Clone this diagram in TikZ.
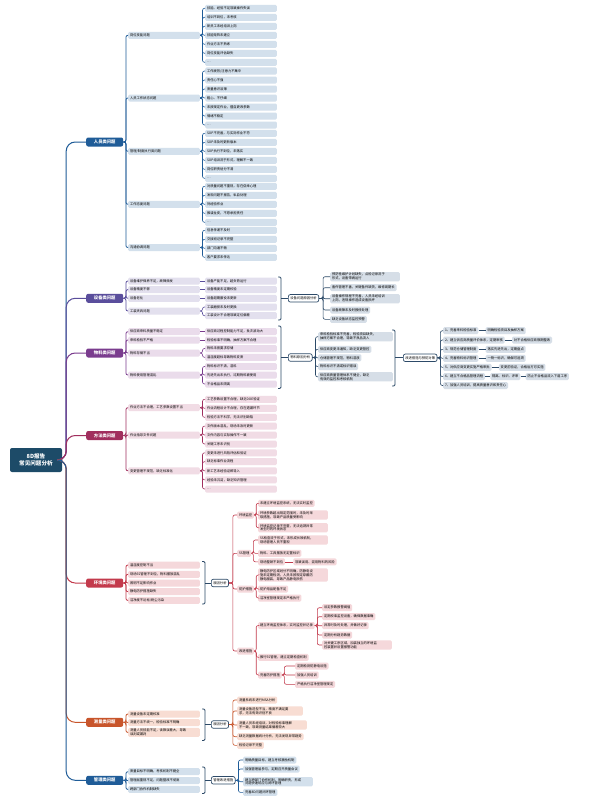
\documentclass[tikz,border=0pt]{standalone}
\usepackage{fontspec}
\newfontfamily\cjk{Noto Sans CJK SC}
\XeTeXlinebreaklocale "zh"
\XeTeXlinebreakskip = 0pt plus 1pt
\usetikzlibrary{positioning}
\definecolor{rootc}{HTML}{1D4B68}
\definecolor{c1}{HTML}{1F5C98}\definecolor{l1}{HTML}{D3E0EC}
\definecolor{c2}{HTML}{5A4E9C}\definecolor{l2}{HTML}{E3E0EE}
\definecolor{c3}{HTML}{7A3C8E}\definecolor{l3}{HTML}{EADCEB}
\definecolor{c4}{HTML}{A12F5E}\definecolor{l4}{HTML}{F1DCE5}
\definecolor{c5}{HTML}{C33A4C}\definecolor{l5}{HTML}{F5D8DB}
\definecolor{c6}{HTML}{C8552B}\definecolor{l6}{HTML}{F8DDD3}
\definecolor{c7}{HTML}{1F5C98}\definecolor{l7}{HTML}{D3E0EC}
\definecolor{slate}{HTML}{2D4A68}\definecolor{ls}{HTML}{D6DEE7}
\tikzset{
 txt/.style={font=\cjk\fontsize{3.3}{3.9}\selectfont},
 lf/.style={txt, fill=#1, rounded corners=1.3pt, inner xsep=1.8pt, inner ysep=1.1pt, minimum height=7pt, anchor=west, align=left},
 sb/.style={lf=#1, text width=68pt},
 mainn/.style={fill=#1, text=white, font=\cjk\bfseries\fontsize{4.3}{5}\selectfont, rounded corners=2pt, minimum width=37pt, minimum height=9pt, inner sep=1pt, anchor=west},
 summ/.style={txt, fill=white, draw=slate, line width=0.7pt, rounded corners=2pt, inner xsep=2pt, inner ysep=1.2pt, minimum height=7.5pt, anchor=west},
 cn/.style={draw=#1, line width=0.6pt, rounded corners=2pt},
 cnm/.style={draw=#1, line width=1pt, rounded corners=9pt},
 brk/.style={draw=slate, line width=0.8pt, rounded corners=1.2pt},
}
\begin{document}
\begin{tikzpicture}[x=1pt,y=-1pt]
\useasboundingbox (0,0) rectangle (602,800);
\fill[white] (0,0) rectangle (602,800);

% root
\node[fill=rootc, text=white, font=\cjk\bfseries\fontsize{5.6}{7.6}\selectfont, rounded corners=2pt, minimum width=52pt, minimum height=24pt, align=center, inner sep=1pt] (root) at (36,460) {8D报告\\常见问题分析};

% main nodes
\node[mainn=c1] (m1) at (86,142) {人员类问题};
\node[mainn=c2] (m2) at (86,298.3) {设备类问题};
\node[mainn=c3] (m3) at (86,353) {物料类问题};
\node[mainn=c4] (m4) at (86,435.5) {方法类问题};
\node[mainn=c5] (m5) at (86,583) {环境类问题};
\node[mainn=c6] (m6) at (86,722.3) {测量类问题};
\node[mainn=c7] (m7) at (86,780.3) {管理类问题};
\foreach \m/\cl in {m1/c1,m2/c2,m3/c3,m4/c4,m5/c5,m6/c6,m7/c7}
  \draw[cnm=\cl] (root.east) -- ++(4,0) |- (\m.west);

% ===== Section 1
\node[sb=l1] (s11) at (128,35.3) {岗位技能问题};
\node[sb=l1] (s12) at (128,98) {人员工作状态问题};
\node[sb=l1] (s13) at (128,151.3) {管理/制度执行类问题};
\node[sb=l1] (s14) at (128,204.3) {工作态度问题};
\node[sb=l1] (s15) at (128,247.5) {沟通协调问题};
\foreach \s in {s11,s12,s13,s14,s15} \draw[cn=c1,line width=0.8pt] (m1.east) -- ++(2.5,0) |- (\s.west);
\node[sb=l1] (p11) at (205,8.3) {技能、经验不足导致操作失误};
\node[sb=l1] (p12) at (205,17.3) {培训不到位，未考核};
\node[sb=l1] (p13) at (205,26.3) {新员工未经培训上岗};
\node[sb=l1] (p14) at (205,35.3) {技能矩阵未建立};
\node[sb=l1] (p15) at (205,44.3) {作业方法不熟练};
\node[sb=l1] (p16) at (205,53.3) {岗位技能评估缺失};
\node[sb=l1] (p17) at (205,62.3) {…};
\foreach \p in {p11,p12,p13,p14,p15,p16,p17} \draw[cn=c1] (s11.east) -- ++(2.5,0) |- (\p.west);
\node[sb=l1] (p21) at (205,71) {工作疲劳/注意力不集中};
\node[sb=l1] (p22) at (205,80) {责任心不强};
\node[sb=l1] (p23) at (205,89) {质量意识淡薄};
\node[sb=l1] (p24) at (205,98) {粗心、不仔细};
\node[sb=l1] (p25) at (205,107) {未按规定作业，擅自更改参数};
\node[sb=l1] (p26) at (205,116) {情绪不稳定};
\node[sb=l1] (p27) at (205,125) {…};
\foreach \p in {p21,p22,p23,p24,p25,p26,p27} \draw[cn=c1] (s12.east) -- ++(2.5,0) |- (\p.west);
\node[sb=l1] (p31) at (205,133.3) {SOP不完善，与实际作业不符};
\node[sb=l1] (p32) at (205,142.3) {SOP未及时更新版本};
\node[sb=l1] (p33) at (205,151.3) {SOP执行不到位，未落实};
\node[sb=l1] (p34) at (205,160.3) {SOP培训流于形式，理解不一致};
\node[sb=l1] (p35) at (205,169.3) {岗位职责划分不清};
\node[sb=l1] (p36) at (205,178.3) {…};
\foreach \p in {p31,p32,p33,p34,p35,p36} \draw[cn=c1] (s13.east) -- ++(2.5,0) |- (\p.west);
\node[sb=l1] (p41) at (205,186.3) {对质量问题不重视，存在侥幸心理};
\node[sb=l1] (p42) at (205,195.3) {发现问题不报告，私自处理};
\node[sb=l1] (p43) at (205,204.3) {凭经验作业};
\node[sb=l1] (p44) at (205,213.3) {推诿扯皮，不愿承担责任};
\node[sb=l1] (p45) at (205,222.3) {…};
\foreach \p in {p41,p42,p43,p44,p45} \draw[cn=c1] (s14.east) -- ++(2.5,0) |- (\p.west);
\node[sb=l1] (p51) at (205,230.3) {信息传递不及时};
\node[sb=l1] (p52) at (205,239.3) {交接班记录不完整};
\node[sb=l1] (p53) at (205,248.3) {部门沟通不畅};
\node[sb=l1] (p54) at (205,257.3) {客户要求未传达};
\foreach \p in {p51,p52,p53,p54} \draw[cn=c1] (s15.east) -- ++(2.5,0) |- (\p.west);

% ===== Section 2
\node[sb=l2] (s21) at (128,281) {设备维护保养不足，故障频发};
\node[sb=l2] (s22) at (128,289.6) {设备精度不够};
\node[sb=l2] (s23) at (128,298.3) {设备老化};
\node[sb=l2] (s24) at (128,311) {工装夹具问题};
\foreach \s in {s21,s22,s23,s24} \draw[cn=c2,line width=0.8pt] (m2.east) -- ++(2.5,0) |- (\s.west);
\node[sb=l2] (q21) at (205,281) {设备产能不足，超负荷运行};
\node[sb=l2] (q22) at (205,289.6) {设备精度未定期校验};
\node[sb=l2] (q23) at (205,298.3) {设备超期服役未更新};
\node[sb=l2] (q24) at (205,307) {工装磨损未及时更换};
\node[sb=l2] (q25) at (205,315.7) {工装设计不合理导致定位偏差};
\draw[cn=c2] (s21.east) -- (q21.west);
\draw[cn=c2] (s22.east) -- (q22.west);
\draw[cn=c2] (s23.east) -- (q23.west);
\draw[cn=c2] (s24.east) -- ++(2.5,0) |- (q24.west);
\draw[cn=c2] (s24.east) -- ++(2.5,0) |- (q25.west);
\draw[brk] (278,277) -- (281,277) -- (281,320) -- (278,320);
\coordinate (b2) at (281,298.3);
\node[summ] (sm2) at (288,298.3) {设备问题原因分析};
\draw[brk] (b2) -- (sm2.west);
\node[lf=ls, text width=66pt] (r21) at (330,276.7) {预防性维护计划缺失，点检记录流于\\形式，设备带病运行};
\node[lf=ls] (r22) at (330,287.7) {备件管理不善，关键备件缺货，维修周期长};
\node[lf=ls, text width=66pt] (r23) at (330,298.7) {设备操作规程不完善，人员未经培训\\上岗，违规操作造成设备损坏};
\node[lf=ls] (r24) at (330,310) {设备故障未及时报修处理};
\node[lf=ls] (r25) at (330,319.3) {缺乏设备状态监控预警};
\foreach \r in {r21,r22,r23,r24,r25} \draw[cn=slate] (sm2.east) -- ++(4,0) |- (\r.west);

% ===== Section 3
\node[sb=l3] (s31) at (128,331.7) {供应商来料质量不稳定};
\node[sb=l3] (s32) at (128,340) {来料检验不严格};
\node[sb=l3] (s33) at (128,353) {物料存储不当};
\node[sb=l3] (s34) at (128,375) {物料使用管理混乱};
\foreach \s in {s31,s32,s33,s34} \draw[cn=c3,line width=0.8pt] (m3.east) -- ++(2.5,0) |- (\s.west);
\node[sb=l3] (q31) at (205,331.7) {供应商过程控制能力不足，批次波动大};
\node[sb=l3] (q32) at (205,340) {检验标准不明确，抽样方案不合理};
\node[sb=l3] (q33) at (205,348.5) {物料未按要求存储};
\node[sb=l3] (q34) at (205,357.3) {温湿度超标导致物料变质};
\node[sb=l3] (q35) at (205,366.5) {物料标识不清，混料};
\node[sb=l3] (q36) at (205,375) {先进先出未执行，过期物料被使用};
\node[sb=l3] (q37) at (205,384) {不合格品未隔离};
\draw[cn=c3] (s31.east) -- (q31.west);
\draw[cn=c3] (s32.east) -- (q32.west);
\foreach \q in {q33,q34} \draw[cn=c3] (s33.east) -- ++(2.5,0) |- (\q.west);
\foreach \q in {q35,q36,q37} \draw[cn=c3] (s34.east) -- ++(2.5,0) |- (\q.west);
\draw[brk] (278,326) -- (281,326) -- (281,388.5) -- (278,388.5);
\coordinate (b3) at (281,357.5);
\node[summ] (sm3) at (288,357.5) {物料原因分析};
\draw[brk] (b3) -- (sm3.west);
\node[lf=ls, text width=71pt] (r31) at (318,336.7) {来料检验标准不完善，检验项目缺失，\\抽样方案不合理，导致不良品流入};
\node[lf=ls] (r32) at (318,349.3) {供应商变更未通知，缺乏变更管控};
\node[lf=ls] (r33) at (318,357.8) {仓储管理不规范，物料混放};
\node[lf=ls] (r34) at (318,366.6) {物料标识不清或标识错误};
\node[lf=ls, text width=71pt] (r35) at (318,376.8) {供应商质量管理体系不健全，缺乏\\有效的监控和考核机制};
\foreach \r in {r31,r32,r33,r34,r35} \draw[cn=slate] (sm3.east) -- ++(3,0) |- (\r.west);
\draw[brk] (392,330) -- (395,330) -- (395,386) -- (392,386);
\coordinate (b3b) at (395,357.8);
\node[summ] (sm3b) at (403,357.8) {改进措施与预防对策};
\draw[brk] (b3b) -- (sm3b.west);
\node[lf=ls] (t1) at (443,330.7) {1、完善来料检验标准};
\node[lf=ls] (t2) at (443,340) {2、建立供应商质量评价体系，定期审核};
\node[lf=ls] (t3) at (443,349.3) {3、规范仓储管理制度};
\node[lf=ls] (t4) at (443,358.3) {4、完善物料标识管理};
\node[lf=ls] (t5) at (443,367.3) {5、对供应商变更实施严格审批};
\node[lf=ls] (t6) at (443,376.6) {6、建立不合格品管理流程};
\node[lf=ls] (t7) at (443,385.5) {7、加强人员培训，提高质量意识和责任心};
\foreach \t in {t1,t2,t3,t4,t5,t6,t7} \draw[cn=slate] (sm3b.east) -- ++(3,0) |- (\t.west);
\node[lf=ls, right=7pt of t1] (e1) {明确检验项目及抽样方案};
\node[lf=ls, right=7pt of t2] (e2) {对不合格供应商限期整改};
\node[lf=ls, right=7pt of t3] (e3) {落实先进先出，定期盘点};
\node[lf=ls, right=7pt of t4] (e4) {一物一标识，确保可追溯};
\node[lf=ls, right=7pt of t5] (e5) {变更前验证，合格后方可实施};
\node[lf=ls, right=5pt of t6] (e6) {隔离、标识、评审};
\node[lf=ls, right=5pt of e6] (e7) {防止不合格品流入下道工序};
\foreach \a/\b in {t1/e1,t2/e2,t3/e3,t4/e4,t5/e5,t6/e6,e6/e7} \draw[cn=slate] (\a.east) -- (\b.west);

% ===== Section 4
\node[sb=l4] (s41) at (128,407.7) {作业方法不合理，工艺参数设置不当};
\node[sb=l4] (s42) at (128,435) {作业指导文件问题};
\node[sb=l4] (s43) at (128,470.8) {变更管理不规范，缺乏标准化};
\foreach \s in {s41,s42,s43} \draw[cn=c4,line width=0.8pt] (m4.east) -- ++(2.5,0) |- (\s.west);
\node[sb=l4] (q41) at (205,399.3) {工艺参数设置不合理，缺乏DOE验证};
\node[sb=l4] (q42) at (205,408.3) {作业流程设计不合理，存在遗漏环节};
\node[sb=l4] (q43) at (205,417.3) {检验方法不科学，无法识别缺陷};
\node[sb=l4] (q44) at (205,426.1) {文件版本混乱，现场未及时更新};
\node[sb=l4] (q45) at (205,435) {文件内容与实际操作不一致};
\node[sb=l4] (q46) at (205,444) {关键工序未识别};
\node[sb=l4] (q47) at (205,452.8) {变更未进行风险评估和验证};
\node[sb=l4] (q48) at (205,461.7) {缺乏标准作业流程};
\node[sb=l4] (q49) at (205,470.8) {新工艺未经验证即导入};
\node[sb=l4] (q4a) at (205,479.9) {经验未沉淀，缺乏知识管理};
\node[sb=l4] (q4b) at (205,489) {…};
\foreach \q in {q41,q42,q43} \draw[cn=c4] (s41.east) -- ++(2.5,0) |- (\q.west);
\foreach \q in {q44,q45,q46} \draw[cn=c4] (s42.east) -- ++(2.5,0) |- (\q.west);
\foreach \q in {q47,q48,q49,q4a,q4b} \draw[cn=c4] (s43.east) -- ++(2.5,0) |- (\q.west);

% ===== Section 5
\node[sb=l5] (s51) at (128,565) {温湿度控制不当};
\node[sb=l5] (s52) at (128,574.3) {现场5S管理不到位，物料摆放混乱};
\node[sb=l5] (s53) at (128,583) {照明不足影响作业};
\node[sb=l5] (s54) at (128,591.7) {静电防护措施缺失};
\node[sb=l5] (s55) at (128,600.4) {洁净度不达标/粉尘污染};
\foreach \s in {s51,s52,s53,s54,s55} \draw[cn=c5,line width=0.8pt] (m5.east) -- ++(2.5,0) |- (\s.west);
\draw[brk] (202,561.5) -- (205,561.5) -- (205,604) -- (202,604);
\coordinate (b5) at (205,583);
\node[summ] (sm5) at (211,583) {原因分析};
\draw[brk] (b5) -- (sm5.west);
\node[lf=l5] (u1) at (237,515) {环境监控};
\node[lf=l5] (u2) at (237,553.3) {5S管理};
\node[lf=l5] (u3) at (237,589) {防护措施};
\node[lf=l5] (u4) at (237,651) {改进措施};
\foreach \u in {u1,u2,u3,u4} \draw[cn=c5] (sm5.east) -- ++(4,0) |- (\u.west);
\node[lf=l5] (v11) at (258,503.3) {未建立环境监控系统，无法实时监控};
\node[lf=l5, text width=66pt] (v12) at (258,515) {环境参数超出规定范围时，未及时采\\取措施，导致产品质量受影响};
\node[lf=l5, text width=66pt] (v13) at (258,527.7) {环境监控记录不完整，无法追溯异常\\发生时的环境状态};
\foreach \v in {v11,v12,v13} \draw[cn=c5] (u1.east) -- ++(2,0) |- (\v.west);
\node[lf=l5, text width=66pt] (v21) at (258,540) {5S检查流于形式，未形成长效机制，\\现场管理人员不重视};
\node[lf=l5] (v22) at (258,553.3) {物料、工具摆放无定置标识};
\node[lf=l5] (v23) at (258,561.8) {现场整顿不到位};
\node[lf=l5, right=8pt of v23] (v24) {导致误用、混用物料的风险};
\foreach \v in {v21,v22,v23} \draw[cn=c5] (u2.east) -- ++(2,0) |- (\v.west);
\draw[cn=c5] (v23.east) -- (v24.west);
\node[lf=l5, text width=66pt] (v31) at (258,575) {静电防护区域划分不明确，防静电设\\施未定期检测，人员未按规定穿戴防\\静电服装，导致产品静电损伤};
\node[lf=l5] (v32) at (258,589) {防护用品配备不足};
\node[lf=l5] (v33) at (258,598) {洁净室管理规定未严格执行};
\foreach \v in {v31,v32,v33} \draw[cn=c5] (u3.east) -- ++(2,0) |- (\v.west);
\node[lf=l5] (v41) at (258,625.5) {建立环境监控体系，实时监控并记录};
\node[lf=l5] (v42) at (258,657.3) {推行5S管理，建立定期检查机制};
\node[lf=l5] (v43) at (258,675) {完善防护措施};
\foreach \v in {v41,v42,v43} \draw[cn=c5] (u4.east) -- ++(2,0) |- (\v.west);
\node[lf=l5] (w1) at (322,607.7) {设定参数报警阈值};
\node[lf=l5] (w2) at (322,616.7) {定期校准监控设备，确保数据准确};
\node[lf=l5] (w3) at (322,625.7) {异常时及时处理，并做好记录};
\node[lf=l5] (w4) at (322,635) {定期分析趋势数据};
\node[lf=l5, text width=66pt] (w5) at (322,645) {对关键工序区域，加装独立的环境监\\控装置并设置报警功能};
\foreach \w in {w1,w2,w3,w4,w5} \draw[cn=c5] (v41.east) -- ++(2.5,0) |- (\w.west);
\node[lf=l5] (x1) at (295,666) {定期检测防静电设施};
\node[lf=l5] (x2) at (295,675) {加强人员培训};
\node[lf=l5] (x3) at (295,684.3) {严格执行洁净室管理规定};
\foreach \x in {x1,x2,x3} \draw[cn=c5] (v43.east) -- ++(2.5,0) |- (\x.west);

% ===== Section 6
\node[sb=l6] (s61) at (128,714) {测量设备未定期校准};
\node[sb=l6] (s62) at (128,722.5) {测量方法不统一，检验标准不明确};
\node[sb=l6] (s63) at (128,732.4) {测量人员技能不足，读数误差大，导致\\误判或漏判};
\foreach \s in {s61,s62,s63} \draw[cn=c6,line width=0.8pt] (m6.east) -- ++(2.5,0) |- (\s.west);
\draw[brk] (202,709) -- (205,709) -- (205,740.5) -- (202,740.5);
\coordinate (b6) at (205,724.5);
\node[summ] (sm6) at (211,724.5) {原因分析};
\draw[brk] (b6) -- (sm6.west);
\node[lf=l6] (y1) at (237,700) {测量系统未进行MSA分析};
\node[lf=l6, text width=62pt] (y2) at (237,711) {测量设备选型不当，精度不满足要\\求，无法有效识别不良};
\node[lf=l6, text width=66pt] (y3) at (237,725) {测量人员未经培训，对检验标准理解\\不一致，导致测量结果偏差较大};
\node[lf=l6] (y4) at (237,736.7) {缺乏测量数据统计分析，无法发现异常趋势};
\node[lf=l6] (y5) at (237,745.3) {检验记录不完整};
\foreach \y in {y1,y2,y3,y4,y5} \draw[cn=c6] (sm6.east) -- ++(4,0) |- (\y.west);

% ===== Section 7
\node[sb=l7] (s71) at (128,771.7) {质量目标不明确，考核机制不健全};
\node[sb=l7] (s72) at (128,780.7) {管理层重视不足，问题整改不彻底};
\node[sb=l7] (s73) at (128,789.4) {跨部门协作机制缺失};
\foreach \s in {s71,s72,s73} \draw[cn=c7,line width=0.8pt] (m7.east) -- ++(2.5,0) |- (\s.west);
\draw[brk] (202,767) -- (205,767) -- (205,793.5) -- (202,793.5);
\coordinate (b7) at (205,780.3);
\node[summ] (sm7) at (211,780.3) {管理改进措施};
\draw[brk] (b7) -- (sm7.west);
\node[lf=l7] (z1) at (243,760) {明确质量目标，建立考核激励机制};
\node[lf=l7] (z2) at (243,769) {加强管理层参与，定期召开质量会议};
\node[lf=l7, text width=66pt] (z3) at (243,781.7) {建立跨部门协作机制，明确职责，形成\\问题快速响应与闭环管理};
\node[lf=l7] (z4) at (243,792.4) {完善8D问题闭环管理};
\foreach \z in {z1,z2,z3,z4} \draw[cn=c7] (sm7.east) -- ++(3,0) |- (\z.west);
\end{tikzpicture}
\end{document}
